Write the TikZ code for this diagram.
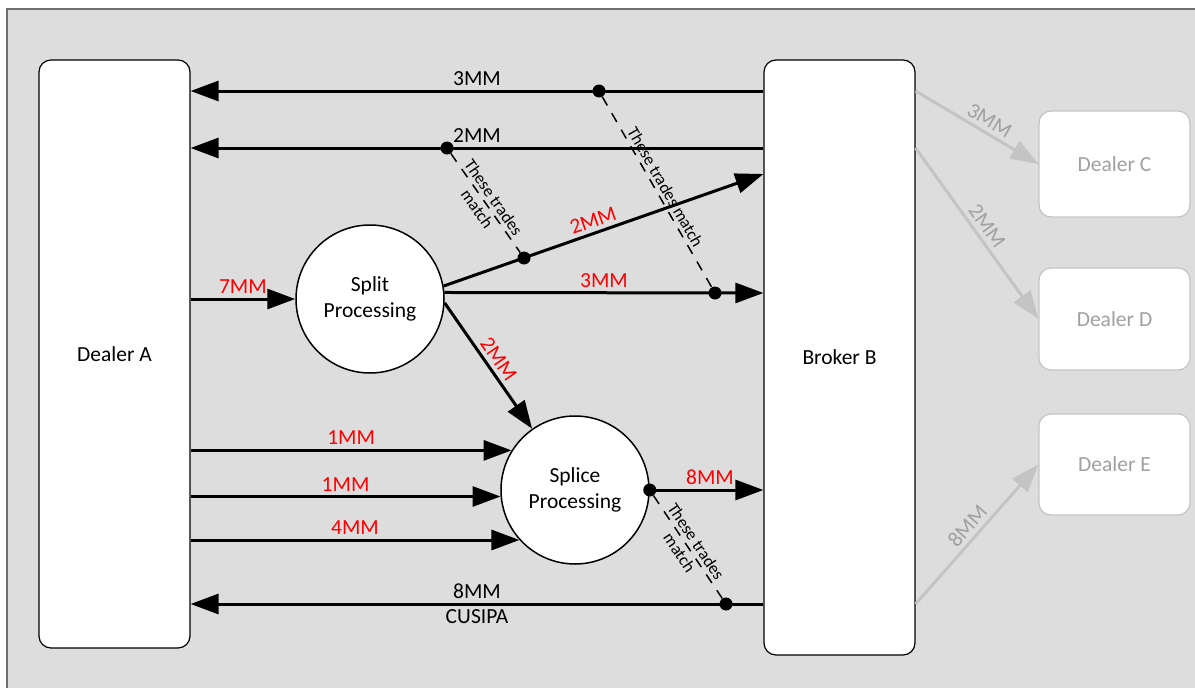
\documentclass[tikz,border=0pt]{standalone}
\usepackage{fontspec}
\setmainfont{Carlito}
\usetikzlibrary{arrows.meta,positioning}

\definecolor{panel}{HTML}{DDDDDD}
\definecolor{frameline}{HTML}{6E6E6E}
\definecolor{faint}{HTML}{C4C4C4}
\definecolor{fainttext}{HTML}{A0A0A0}

\begin{document}
\begin{tikzpicture}[x=1pt, y=-1pt,
    party/.style={draw, line width=1.2pt, rounded corners=12pt, fill=white, minimum width=151pt, font=\fontsize{21.5}{26}\selectfont},
    other/.style={draw=faint, line width=1.2pt, rounded corners=12pt, fill=white, minimum width=151pt, text=fainttext, font=\fontsize{21.5}{26}\selectfont},
    proc/.style={draw, circle, line width=1.5pt, fill=white, minimum size=148pt, inner sep=0pt, align=center, font=\fontsize{21.5}{26}\selectfont},
    dot/.style={circle, fill=black, minimum size=13pt, inner sep=0pt},
    trade/.style={line width=3pt, -{Triangle[length=28pt, width=20pt]}},
    fwd/.style={line width=3pt, faint, -{Triangle[length=28pt, width=20pt]}},
    match/.style={line width=1.5pt, dash pattern=on 10pt off 9pt},
    amt/.style={font=\fontsize{21.5}{26}\selectfont, inner sep=4pt},
    note/.style={font=\fontsize{17}{20}\selectfont, align=center, sloped, inner sep=0pt}
  ]
    \useasboundingbox (0,0) rectangle (1195,688);
    \fill[panel] (7,9) rectangle (1195,688);
    \draw[frameline, line width=1.5pt] (1195,9) -- (7,9) -- (7,688);

    \node[party, minimum height=588pt] (dealerA) at (114.5,354) {Dealer A};
    \node[party, minimum height=595pt] (brokerB) at (839.5,357.5) {Broker B};
    \node[other, minimum height=106pt] (dealerC) at (1114.5,164) {Dealer C};
    \node[other, minimum height=102pt] (dealerD) at (1114.5,319) {Dealer D};
    \node[other, minimum height=101pt] (dealerE) at (1114.5,464.5) {Dealer E};

    \node[proc] (split)  at (370,299) {Split\\Processing};
    \node[proc] (splice) at (575,490) {Splice\\Processing};

    \node[dot] (m1) at (599,91) {};
    \node[dot] (m2) at (447,148) {};
    \node[dot] (m3) at (524,258) {};
    \node[dot] (m4) at (715,293) {};
    \node[dot] (m5) at (splice.east) {};
    \node[dot] (m6) at (726,604) {};
    \coordinate (upEnd) at (brokerB.west |- 0,174);

    % broker back to dealer A
    \draw[trade] (brokerB.west |- m1) -- node[amt, above]{3MM} (dealerA.east |- m1);
    \draw[trade] (brokerB.west |- m2) -- node[amt, above]{2MM} (dealerA.east |- m2);
    \draw[trade] (brokerB.west |- m6) -- node[amt, above]{8MM} node[amt, below]{CUSIPA} (dealerA.east |- m6);

    % dealer A through the processing
    \draw[trade] (dealerA.east |- split.west) -- node[amt, above, text=red]{7MM} (split.west);
    \draw[trade] (split.10) -- node[amt, above, sloped, pos=0.48, text=red]{2MM} (upEnd);
    \draw[trade] (split.5) -- node[amt, above, text=red]{3MM} (brokerB.west |- m4);
    \draw[trade] (split.-3) -- node[amt, above, sloped, text=red]{2MM} (splice.125);
    \draw[trade] (dealerA.east |- splice.148) -- node[amt, above, text=red]{1MM} (splice.148);
    \draw[trade] (dealerA.east |- splice.185) -- node[amt, above, text=red]{1MM} (splice.185);
    \draw[trade] (dealerA.east |- splice.222) -- node[amt, above, text=red]{4MM} (splice.222);
    \draw[trade] (m5) -- node[amt, above, text=red]{8MM} (brokerB.west |- m5);

    % matched legs
    \draw[match] (m2) -- node[note]{These trades\\match} (m3);
    \draw[match] (m1) -- node[note, above=3pt]{These trades match} (m4);
    \draw[match] (m5) -- node[note]{These trades\\match} (m6);

    % onward to other dealers
    \draw[fwd] (brokerB.east |- m1) -- node[amt, above, sloped, pos=0.55, text=fainttext]{3MM} (dealerC.west);
    \draw[fwd] (brokerB.east |- m2) -- node[amt, above, sloped, text=fainttext]{2MM} (dealerD.west);
    \draw[fwd] (brokerB.east |- m6) -- node[amt, above, sloped, text=fainttext]{8MM} (dealerE.west);
  \end{tikzpicture}
\end{document}
